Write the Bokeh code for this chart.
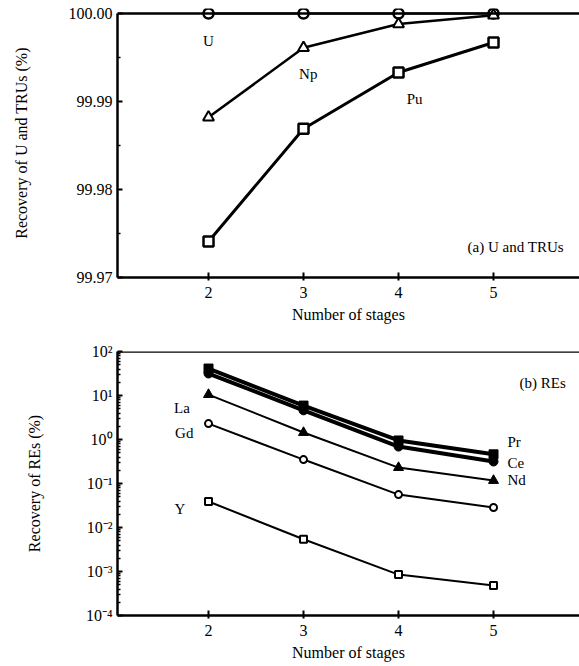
from bokeh.plotting import figure
from bokeh.layouts import column
from bokeh.models import (FixedTicker, Label, CustomJSTickFormatter,
                          PrintfTickFormatter, Range1d, Span)
from bokeh.embed import file_html
from bokeh.resources import INLINE

# ---------------- data ----------------
stages = [2, 3, 4, 5]

# (a) U and TRUs, recovery (%)
u_rec = [100.0, 100.0, 100.0, 100.0]
np_rec = [99.9882, 99.9961, 99.9988, 99.9998]
pu_rec = [99.9741, 99.9869, 99.9933, 99.9967]
top_ticks = [99.97, 99.98, 99.99, 100.00]
top_minor = [99.975, 99.985, 99.995]

# (b) REs, recovery (%)
pr_rec = [41.0, 5.9, 0.95, 0.46]
ce_rec = [31.6, 4.6, 0.69, 0.316]
nd_rec = [10.5, 1.44, 0.23, 0.117]
gd_rec = [2.3, 0.35, 0.056, 0.0285]
y_rec = [0.039, 0.0054, 0.00085, 0.00048]
re_exps = [-4, -3, -2, -1, 0, 1, 2]
re_tick_labels = ["10\u207b\u2074", "10\u207b\u00b3", "10\u207b\u00b2", "10\u207b\u00b9",
                  "10\u2070", "10\u00b9", "10\u00b2"]

FONT = "Liberation Serif"
FS = "15px"
X_RANGE = (1.042, 5.905)


def style_axes(p, top_value):
    p.outline_line_color = None
    p.grid.visible = False
    p.background_fill_color = "white"
    p.border_fill_color = "white"
    for ax in p.xaxis + p.yaxis:
        ax.axis_line_width = 2.5
        ax.axis_line_color = "black"
        ax.major_tick_line_width = 2
        ax.major_tick_in = 5
        ax.major_tick_out = 0
        ax.minor_tick_line_width = 1.5
        ax.minor_tick_in = 3
        ax.minor_tick_out = 0
        ax.major_label_text_font = FONT
        ax.major_label_text_font_size = "16px"
        ax.major_label_text_color = "black"
        ax.axis_label_text_font = FONT
        ax.axis_label_text_font_size = "16px"
        ax.axis_label_text_font_style = "normal"
        ax.axis_label_text_color = "black"
    xa = p.below[0]
    xa.major_tick_out = 3
    xa.major_label_standoff = 6
    xa.axis_label_standoff = 5
    xa.ticker = FixedTicker(ticks=stages)
    xa.axis_label = "Number of stages"
    # top border of the frame (right side is cut off in the original)
    p.add_layout(Span(location=top_value, dimension="width", line_color="black", line_width=2.5))


def add_label(p, x, y, text, align="center"):
    p.add_layout(Label(x=x, y=y, text=text, text_align=align, text_baseline="middle",
                       text_font=FONT, text_font_size=FS, text_color="black"))


# ---------------- panel (a) ----------------
# range slightly above 100.00 so the markers on the top border are not clipped
p1 = figure(width=579, height=328, x_range=Range1d(*X_RANGE),
            y_range=Range1d(99.97, 100.000568), output_backend="svg", toolbar_location=None,
            min_border_left=117, min_border_right=0, min_border_top=8, min_border_bottom=51)
style_axes(p1, 100.0)
ya = p1.left[0]
ya.bounds = (99.97, 100.0)
ya.ticker = FixedTicker(ticks=top_ticks, minor_ticks=top_minor)
ya.formatter = PrintfTickFormatter(format="%.2f")
ya.axis_label = "Recovery of U and TRUs (%)"
ya.major_label_standoff = 5
ya.axis_label_standoff = 36

p1.line(stages, u_rec, line_color="black", line_width=2)
p1.scatter(stages, u_rec, marker="circle", size=10, fill_color="white", line_color="black", line_width=2.5)
p1.line(stages, np_rec, line_color="black", line_width=2.5)
p1.scatter(stages, np_rec, marker="triangle", size=11, fill_color="white", line_color="black", line_width=2)
p1.line(stages, pu_rec, line_color="black", line_width=3)
p1.scatter(stages, pu_rec, marker="square", size=10, fill_color="white", line_color="black", line_width=2.5)

add_label(p1, 2.0, 99.99693, "U")
add_label(p1, 3.05, 99.99318, "Np")
add_label(p1, 4.17, 99.99023, "Pu")
add_label(p1, 5.74, 99.97341, "(a) U and TRUs", align="right")

# ---------------- panel (b) ----------------
p2 = figure(width=579, height=336, x_range=Range1d(*X_RANGE),
            y_range=Range1d(1e-4, 1e2), y_axis_type="log",
            output_backend="svg", toolbar_location=None,
            min_border_left=117, min_border_right=0, min_border_top=23, min_border_bottom=49)
style_axes(p2, 1e2)
major_re = [10.0 ** e for e in re_exps]
minor_re = [m * 10.0 ** e for e in re_exps[:-1] for m in range(2, 10)]
ya2 = p2.left[0]
ya2.ticker = FixedTicker(ticks=major_re, minor_ticks=minor_re)
ya2.formatter = CustomJSTickFormatter(args=dict(labels=re_tick_labels), code="""
    const e = Math.round(Math.log10(tick));
    return labels[e + 4];
""")
ya2.axis_label = "Recovery of REs (%)"
ya2.major_label_standoff = 5
ya2.axis_label_standoff = 40

p2.line(stages, pr_rec, line_color="black", line_width=4)
p2.scatter(stages, pr_rec, marker="square", size=9, fill_color="black", line_color="black")
p2.line(stages, ce_rec, line_color="black", line_width=4)
p2.scatter(stages, ce_rec, marker="circle", size=9, fill_color="black", line_color="black")
p2.line(stages, nd_rec, line_color="black", line_width=2)
p2.scatter(stages, nd_rec, marker="triangle", size=10, fill_color="black", line_color="black")
p2.line(stages, gd_rec, line_color="black", line_width=2)
p2.scatter(stages, gd_rec, marker="circle", size=7, fill_color="white", line_color="black", line_width=2)
p2.line(stages, y_rec, line_color="black", line_width=2)
p2.scatter(stages, y_rec, marker="square", size=7, fill_color="white", line_color="black", line_width=2)

add_label(p2, 1.72, 5.07, "La")
add_label(p2, 1.745, 1.44, "Gd")
add_label(p2, 1.70, 0.027, "Y")
add_label(p2, 5.147, 0.855, "Pr", align="left")
add_label(p2, 5.147, 0.30, "Ce", align="left")
add_label(p2, 5.147, 0.117, "Nd", align="left")
add_label(p2, 5.76, 19.7, "(b) REs", align="right")

layout = column(p1, p2, spacing=0)
open("out.html", "w").write(file_html(layout, INLINE))
